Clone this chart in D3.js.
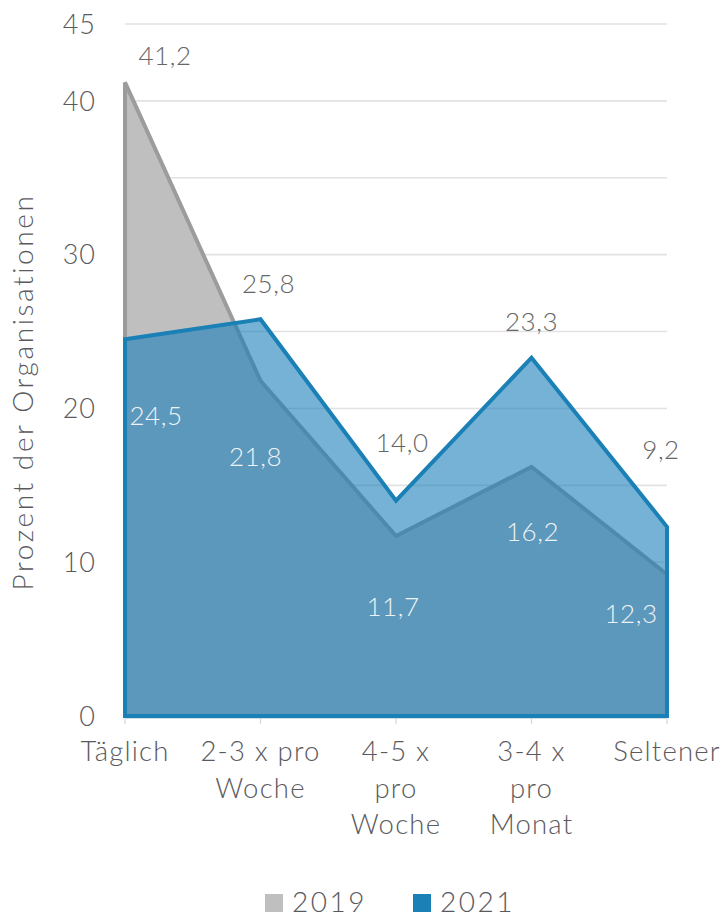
<!DOCTYPE html>
<html>
<head>
<meta charset="utf-8">
<script src="https://cdn.jsdelivr.net/npm/d3@7/dist/d3.min.js"></script>
<style>
  html, body { margin: 0; padding: 0; background: #fff; }
  svg text { font-family: "Lato", "Noto Sans", sans-serif; font-weight: 300; }
</style>
</head>
<body>
<svg id="chart" width="725" height="917"></svg>
<script>
// Categories (multi-line axis labels) and the two survey years
const categories = ["Täglich", "2-3 x pro Woche", "4-5 x pro Woche", "3-4 x pro Monat", "Seltener"];
const categoryLines = [["Täglich"], ["2-3 x pro", "Woche"], ["4-5 x", "pro", "Woche"], ["3-4 x", "pro", "Monat"], ["Seltener"]];
const values2019 = [41.2, 21.8, 11.7, 16.2, 9.2];
const values2021 = [24.5, 25.8, 14.0, 23.3, 12.3];
const seriesNames = ["2019", "2021"];
const yTickValues = [0, 10, 20, 30, 40, 45];
const yGridValues = [5, 10, 15, 20, 25, 30, 35, 40, 45];
const yTitle = "Prozent der Organisationen";

const svg = d3.select("#chart");
const textColor = "#5a5a5e";
const grayFill = "#bfbfbf", grayStroke = "#9c9c9a";
const blueStroke = "#1a80b6", blueFill = "rgba(26,126,185,0.6)";

const x = d3.scalePoint().domain(categories).range([125, 667]);
const y = d3.scaleLinear().domain([0, 45]).range([716, 24]);

// Gridlines
svg.append("g").selectAll("line").data(yGridValues).join("line")
  .attr("x1", x.range()[0]).attr("x2", x.range()[1])
  .attr("y1", d => y(d)).attr("y2", d => y(d))
  .attr("stroke", "#e2e2e2").attr("stroke-width", 1.6);

// Y tick labels
svg.append("g").selectAll("text").data(yTickValues).join("text")
  .attr("x", 96).attr("y", d => y(d)).attr("dy", "0.36em")
  .attr("text-anchor", "end").attr("font-size", 27).attr("fill", textColor)
  .attr("letter-spacing", 1)
  .text(d => d);

// Y axis title
svg.append("text")
  .attr("transform", `translate(33,392) rotate(-90)`)
  .attr("text-anchor", "middle").attr("font-size", 28).attr("fill", textColor)
  .attr("letter-spacing", 2.6)
  .text(yTitle);

// Closed area shapes (baseline to value) for both years
const area = d3.area().x((d, i) => x(categories[i])).y0(y(0)).y1(d => y(d));
function closedPath(vals) { return area(vals) + "Z"; }

svg.append("path").attr("d", closedPath(values2019))
  .attr("fill", grayFill).attr("stroke", grayStroke).attr("stroke-width", 4)
  .attr("stroke-linejoin", "miter");
svg.append("path").attr("d", closedPath(values2021))
  .attr("fill", blueFill).attr("stroke", blueStroke).attr("stroke-width", 4)
  .attr("stroke-linejoin", "miter");

// X axis line and ticks
svg.append("line").attr("x1", x.range()[0]).attr("x2", x.range()[1])
  .attr("y1", y(0) + 2.5).attr("y2", y(0) + 2.5)
  .attr("stroke", "#cfdde6").attr("stroke-width", 1.2);
svg.append("g").selectAll("line").data(categories).join("line")
  .attr("x1", d => x(d)).attr("x2", d => x(d))
  .attr("y1", y(0) + 2.5).attr("y2", y(0) + 8)
  .attr("stroke", "#d6d6d6").attr("stroke-width", 1.2);

// X category labels
const xl = svg.append("g").selectAll("text").data(categories).join("text")
  .attr("x", d => x(d)).attr("y", 761)
  .attr("text-anchor", "middle").attr("font-size", 27.5).attr("fill", textColor)
  .attr("letter-spacing", 1.2);
xl.each(function(d, i) {
  d3.select(this).selectAll("tspan").data(categoryLines[i]).join("tspan")
    .attr("x", x(d)).attr("dy", (t, j) => j === 0 ? 0 : 36.5).text(t => t);
});

// Value labels: the upper label of each category sits above the higher point,
// the lower label sits inside the area below the lower point.
const fmt = v => d3.format(".1f")(v).replace(".", ",");
const upperSeries = [0, 1, 1, 1, 0];
const upperDy = [-27, -36, -58, -36, -77];
const lowerDy = [76, 76, 71, 65, 39];
const upperDx = [40, 8, 6, 0, -6];
const lowerDx = [31, -5, -3, 1, -36];
const both = [values2019, values2021];

categories.forEach((c, i) => {
  const hi = Math.max(values2019[i], values2021[i]);
  const lo = Math.min(values2019[i], values2021[i]);
  const up = both[upperSeries[i]][i];
  const dn = both[1 - upperSeries[i]][i];
  svg.append("text")
    .attr("x", x(c) + upperDx[i]).attr("y", y(hi) + upperDy[i]).attr("dy", "0.36em")
    .attr("text-anchor", "middle").attr("font-size", 26).attr("fill", "#666")
    .attr("letter-spacing", 0.5)
    .text(fmt(up));
  svg.append("text")
    .attr("x", x(c) + lowerDx[i]).attr("y", y(lo) + lowerDy[i]).attr("dy", "0.36em")
    .attr("text-anchor", "middle").attr("font-size", 26).attr("fill", "#eef3f6")
    .attr("letter-spacing", 0.5)
    .text(fmt(dn));
});

// Legend
const legend = svg.append("g");
const legendColors = [grayFill, blueStroke];
const legendX = [265, 413];
seriesNames.forEach((s, i) => {
  legend.append("rect").attr("x", legendX[i]).attr("y", 894)
    .attr("width", 18).attr("height", 18).attr("fill", legendColors[i]);
  legend.append("text").attr("x", legendX[i] + 27).attr("y", 912)
    .attr("font-size", 28).attr("fill", textColor).attr("letter-spacing", 2.5).text(s);
});
</script>
</body>
</html>
